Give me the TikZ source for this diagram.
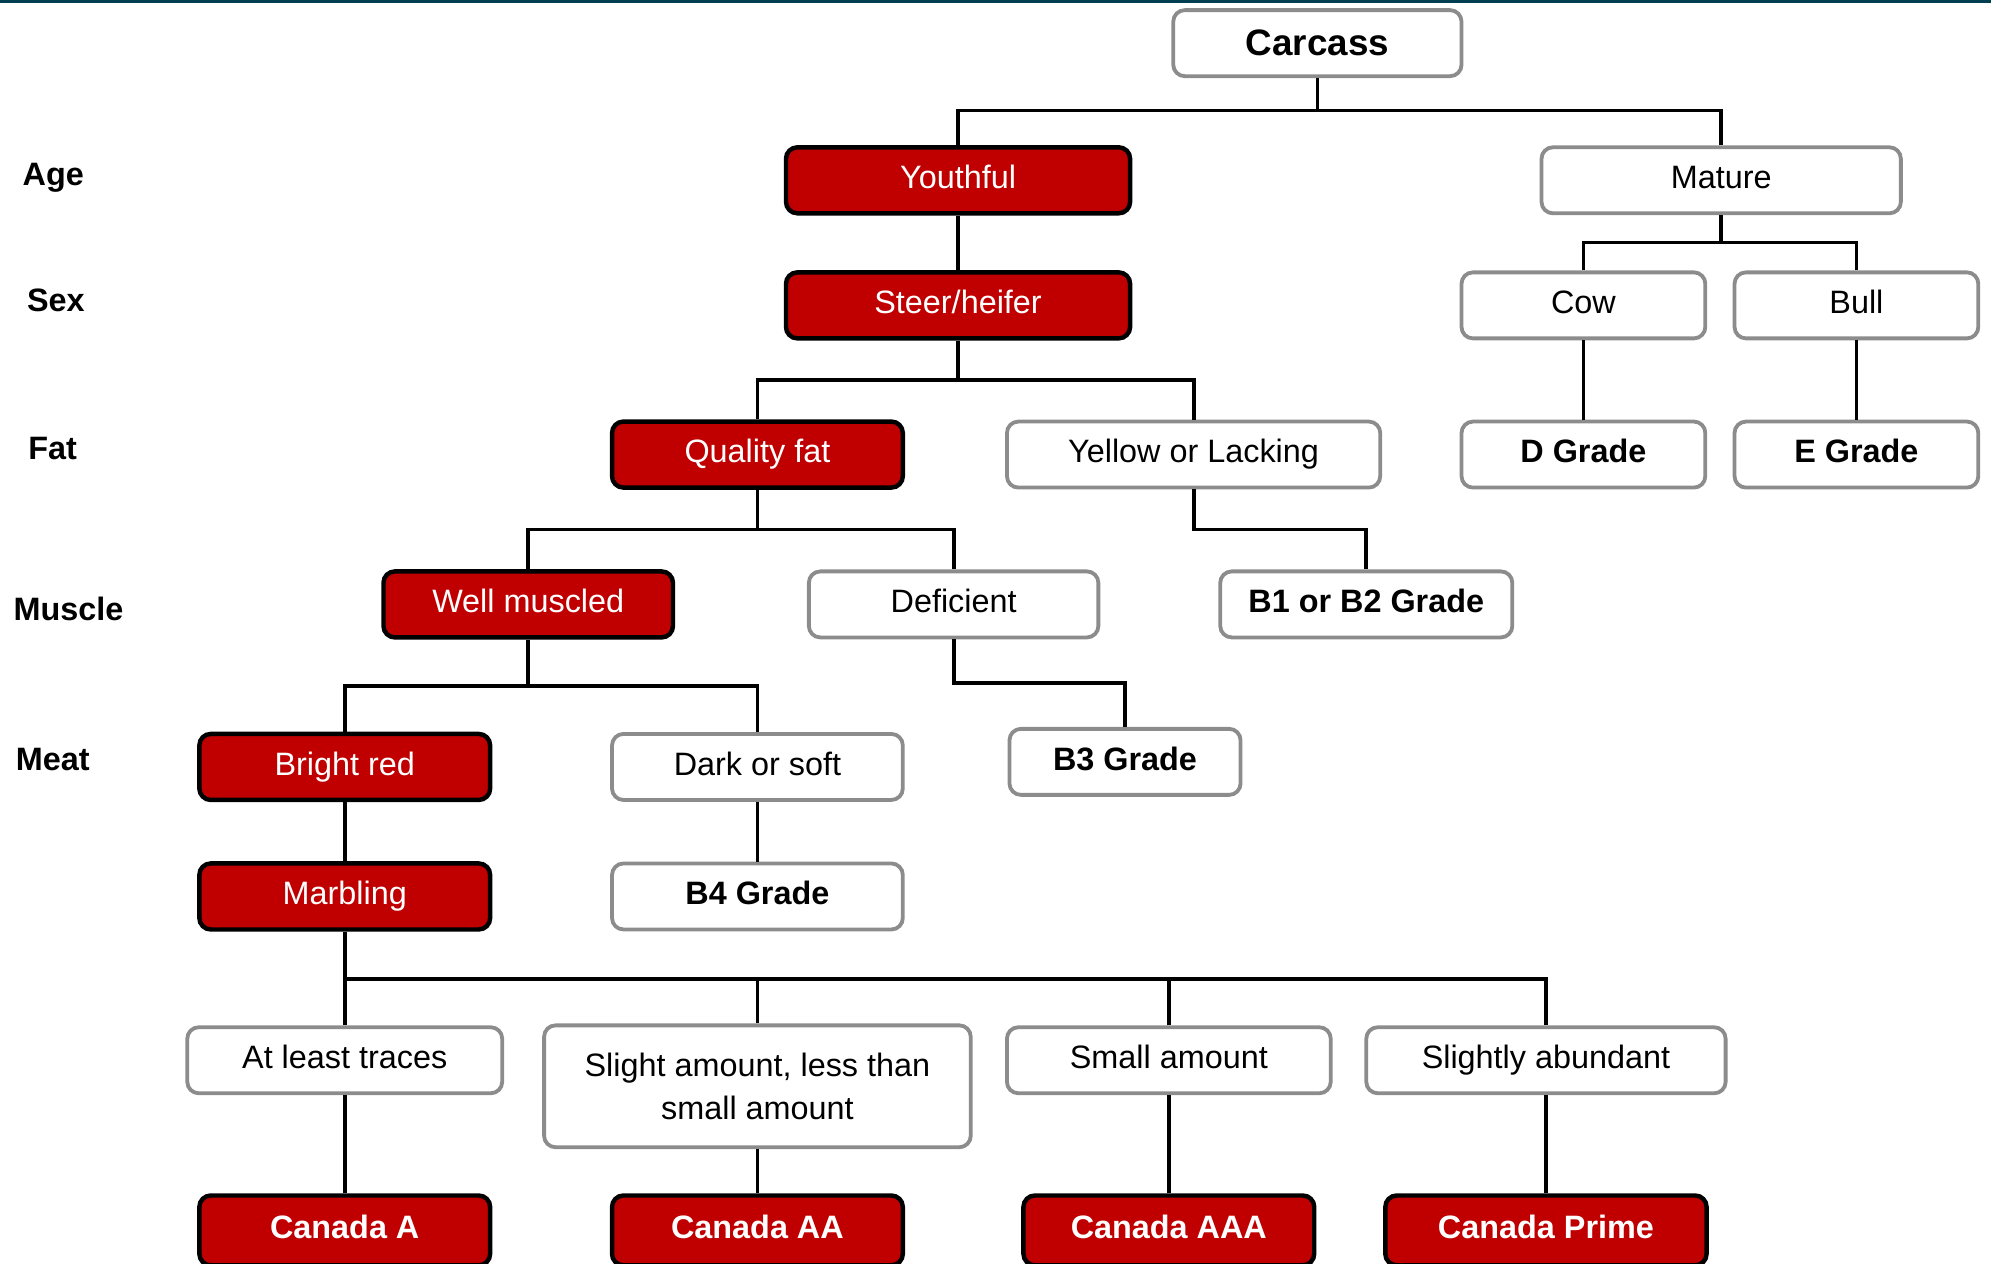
\documentclass[tikz,border=0pt]{standalone}
\usepackage{fontspec}
\setmainfont{Liberation Sans}
\newcommand\myfs{\fontsize{25.5}{34}\selectfont}
\newcommand\mybigfs{\fontsize{29}{34}\selectfont\bfseries}
\definecolor{cred}{HTML}{C00000}
\definecolor{bgray}{HTML}{8C8C8C}
\definecolor{topteal}{HTML}{003F52}
\begin{document}
\begin{tikzpicture}[x=1pt,y=-1pt,
  fixt/.style={text height=18.3pt, text depth=5.4pt},
  wbox/.style={draw=bgray, line width=3pt, rounded corners=9pt, fill=white, font=\myfs, minimum height=52pt, inner sep=0pt, align=center},
  rbox/.style={draw=black, line width=3.5pt, rounded corners=9pt, fill=cred, text=white, font=\myfs, minimum height=52pt, inner sep=0pt, fixt},
  gbox/.style={wbox, font=\myfs\bfseries, fixt},
  ibox/.style={wbox, fixt},
  fbox/.style={rbox, font=\myfs\bfseries, minimum height=55pt},
  lvl/.style={font=\myfs\bfseries, inner sep=0pt, fixt},
  conn/.style={line width=3pt, black, line join=miter}]
\useasboundingbox (0,0) rectangle (1568,995);
\clip (0,0) rectangle (1568,995);
\fill[topteal] (0,0) rectangle (1568,2.5);

% level labels
\node[lvl] (lage) at (42,139.5) {Age};
\node[lvl] (lsex) at (44,238.5) {Sex};
\node[lvl] (lfat) at (41.5,355.5) {Fat};
\node[lvl] (lmus) at (54,482.5) {Muscle};
\node[lvl] (lmeat) at (41.5,600.5) {Meat};

% nodes
\node[wbox, font=\mybigfs, minimum width=227pt] (carcass) at (1037.5,34) {Carcass};
\node[rbox, minimum width=271pt] (youthful) at (754.5,142) {Youthful};
\node[ibox, minimum width=283pt] (mature) at (1355.5,142) {Mature};
\node[rbox, minimum width=271pt] (steer) at (754.5,240.5) {Steer/heifer};
\node[ibox, minimum width=192pt] (cow) at (1247,240.5) {Cow};
\node[ibox, minimum width=192pt] (bull) at (1462,240.5) {Bull};
\node[rbox, minimum width=229pt] (qfat) at (596.5,358) {Quality fat};
\node[ibox, minimum width=294pt] (yellow) at (940,358) {Yellow or Lacking};
\node[gbox, minimum width=192pt] (dgrade) at (1247,358) {D Grade};
\node[gbox, minimum width=192pt] (egrade) at (1462,358) {E Grade};
\node[rbox, minimum width=228pt] (wellm) at (416,476) {Well muscled};
\node[ibox, minimum width=228pt] (defic) at (751,476) {Deficient};
\node[gbox, minimum width=230pt] (b1b2) at (1076,476) {B1 or B2 Grade};
\node[rbox, minimum width=229pt] (bright) at (271.5,604) {Bright red};
\node[ibox, minimum width=229pt] (dark) at (596.5,604) {Dark or soft};
\node[gbox, minimum width=182pt] (b3) at (886,600) {B3 Grade};
\node[rbox, minimum width=229pt] (marb) at (271.5,706) {Marbling};
\node[gbox, minimum width=229pt] (b4) at (596.5,706) {B4 Grade};
\node[ibox, minimum width=248pt] (traces) at (271.5,835) {At least traces};
\node[wbox, minimum width=336pt, minimum height=96pt] (slight) at (596.5,855.5) {Slight amount, less than\\small amount};
\node[ibox, minimum width=255pt] (small) at (920.5,835) {Small amount};
\node[ibox, minimum width=283pt] (abund) at (1217.5,835) {Slightly abundant};
\node[fbox, minimum width=229pt] (ca) at (271.5,969) {Canada A};
\node[fbox, minimum width=229pt] (caa) at (596.5,969) {Canada AA};
\node[fbox, minimum width=229pt] (caaa) at (920.5,969) {Canada AAA};
\node[fbox, minimum width=253pt] (cprime) at (1217.5,969) {Canada Prime};

% connectors
\draw[conn] (carcass.south) -- (carcass.south |- 0,87);
\draw[conn] (youthful.north) |- (mature.north |- 0,87) -- (mature.north);
\draw[conn] (youthful.south) -- (steer.north);
\draw[conn] (mature.south) -- (mature.south |- 0,191);
\draw[conn] (cow.north) |- (bull.north |- 0,191) -- (bull.north);
\draw[conn] (steer.south) -- (steer.south |- 0,299);
\draw[conn] (qfat.north) |- (yellow.north |- 0,299) -- (yellow.north);
\draw[conn] (cow.south) -- (dgrade.north);
\draw[conn] (bull.south) -- (egrade.north);
\draw[conn] (qfat.south) -- (qfat.south |- 0,417);
\draw[conn] (wellm.north) |- (defic.north |- 0,417) -- (defic.north);
\draw[conn] (yellow.south) |- (b1b2.north |- 0,417) -- (b1b2.north);
\draw[conn] (wellm.south) -- (wellm.south |- 0,540);
\draw[conn] (bright.north) |- (dark.north |- 0,540) -- (dark.north);
\draw[conn] (defic.south) |- (b3.north |- 0,538) -- (b3.north);
\draw[conn] (bright.south) -- (marb.north);
\draw[conn] (dark.south) -- (b4.north);
\draw[conn] (marb.south) |- (abund.north |- 0,771) -- (abund.north);
\draw[conn] (slight.north) -- (slight.north |- 0,771);
\draw[conn] (small.north) -- (small.north |- 0,771);
\draw[conn] (marb.south) -- (traces.north);
\draw[conn] (traces.south) -- (ca.north);
\draw[conn] (slight.south) -- (caa.north);
\draw[conn] (small.south) -- (caaa.north);
\draw[conn] (abund.south) -- (cprime.north);
\end{tikzpicture}
\end{document}
